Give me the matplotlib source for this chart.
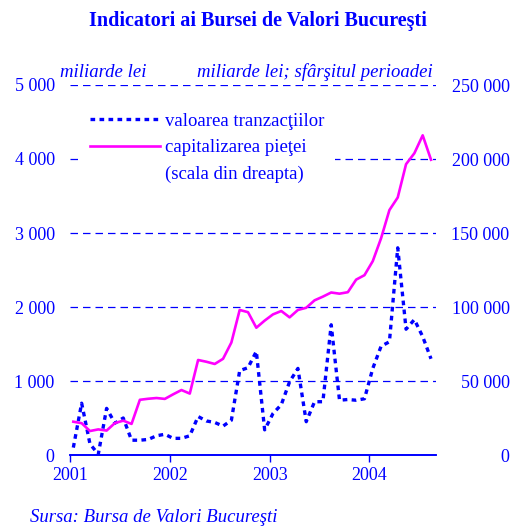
import matplotlib

matplotlib.use("Agg")
import matplotlib.pyplot as plt
import numpy as np
from matplotlib.lines import Line2D
from matplotlib.patches import Rectangle
from matplotlib.ticker import FuncFormatter

BLUE = "#0000FF"
PINK = "#FF00FF"
plt.rcParams["font.family"] = ["Liberation Serif", "DejaVu Serif"]

# monthly data, Jan 2001 .. Aug 2004
start_year = 2001
n_months = 44

# valoarea tranzactiilor, miliarde lei (left axis)
tranzactii = [100, 700, 150, 10, 630, 430, 500, 200, 200, 210, 260, 280,
              225, 225, 260, 520, 460, 440, 390, 470, 1140, 1180, 1400, 340,
              560, 680, 990, 1170, 450, 720, 720, 1760, 740, 750, 740, 760,
              1170, 1470, 1530, 2800, 1700, 1830, 1600, 1300]

# capitalizarea pietei, miliarde lei, sfarsitul perioadei (right axis)
capitalizare = [22500, 21500, 16200, 17300, 16500, 21600, 23200, 21000,
                37300, 38000, 38500, 37900,
                41000, 43900, 41500, 64200, 63000, 61500, 65000, 76000,
                98000, 96500, 86000, 90800,
                95000, 97300, 93000, 98000, 99500, 104500, 107000, 109800,
                109000, 110000, 118500, 121500,
                131000, 146500, 165500, 174000, 196500, 203900, 216000, 199500]

years = [2001, 2002, 2003, 2004]
left_ticks = [0, 1000, 2000, 3000, 4000, 5000]
right_ticks = [0, 50000, 100000, 150000, 200000, 250000]

x = start_year + (np.arange(n_months) + 0.4) / 12


def spaced(v, _pos=None):
    return f"{int(v):,}".replace(",", " ")


fig = plt.figure(figsize=(5.15, 5.26), dpi=100)
ax = fig.add_axes([70 / 515, 71 / 526, 366 / 515, 370 / 526])
ax2 = ax.twinx()

ax.plot(x, tranzactii, color=BLUE, lw=2.4, linestyle=(0, (1.4, 1.3)), zorder=3)
ax2.plot(x, capitalizare, color=PINK, lw=1.9, zorder=3)

ax.set_xlim(start_year, start_year + n_months / 12)
ax.set_ylim(0, 5000)
ax2.set_ylim(0, 250000)
ax.set_xticks(years)
ax.set_xticklabels([str(y) for y in years])
ax.set_yticks(left_ticks)
ax2.set_yticks(right_ticks)
ax.yaxis.set_major_formatter(FuncFormatter(spaced))
ax2.yaxis.set_major_formatter(FuncFormatter(spaced))

ax.yaxis.grid(True, color=BLUE, linestyle=(0, (6, 4)), lw=0.9)
ax.set_axisbelow(True)

for a in (ax, ax2):
    for side in ("top", "right", "left"):
        a.spines[side].set_visible(False)
    a.spines["bottom"].set_color(BLUE)
    a.spines["bottom"].set_linewidth(1.2)
    a.set_facecolor("none")

ax.tick_params(axis="x", colors=BLUE, labelsize=13, length=5, width=1, direction="out", pad=4)
ax.tick_params(axis="y", colors=BLUE, labelsize=13, length=0, pad=11)
ax2.tick_params(axis="y", colors=BLUE, labelsize=13, length=0, pad=53)
for lab in ax2.get_yticklabels():
    lab.set_horizontalalignment("right")

fig.text(0.5, 1 - 21 / 526, "Indicatori ai Bursei de Valori Bucureşti", color=BLUE,
         fontsize=14.5, fontweight="bold", ha="center", va="center")
fig.text(60 / 515, 1 - 72 / 526, "miliarde lei", color=BLUE, fontsize=13.5,
         style="italic", ha="left", va="center")
fig.text(433 / 515, 1 - 72 / 526, "miliarde lei; sfârşitul perioadei", color=BLUE,
         fontsize=13.5, style="italic", ha="right", va="center")
fig.text(30 / 515, 1 - 517 / 526, "Sursa: Bursa de Valori Bucureşti", color=BLUE,
         fontsize=13.5, style="italic", ha="left", va="center")

# white block behind the legend (hides part of the 4000 gridline)
ax.add_patch(Rectangle((0.022, 0.71), 0.702, 0.26, transform=ax.transAxes,
                       facecolor="white", edgecolor="none", zorder=1))

handles = [
    Line2D([], [], color=BLUE, lw=2.4, linestyle=(0, (1.4, 1.3))),
    Line2D([], [], color=PINK, lw=1.9),
    Line2D([], [], color="none"),
]
labels = ["valoarea tranzacţiilor", "capitalizarea pieţei", "(scala din dreapta)"]
leg = ax2.legend(handles, labels, loc="upper left", bbox_to_anchor=(0.055, 0.925),
                 borderaxespad=0, borderpad=0, handlelength=3.7, handletextpad=0.3,
                 labelspacing=0.5, fontsize=13.5, frameon=False)
for t in leg.get_texts():
    t.set_color(BLUE)

fig.savefig("out.png", dpi=100)
